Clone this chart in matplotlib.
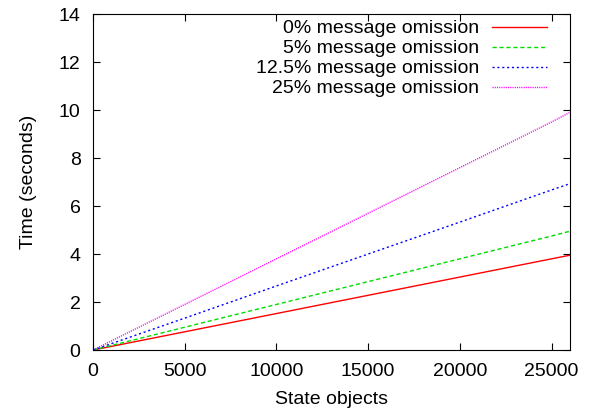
import matplotlib
matplotlib.use('Agg')
import matplotlib.pyplot as plt

objects = [0, 5000, 10000, 15000, 20000, 25000, 26000]
t_0 = [0, 0.76, 1.52, 2.28, 3.04, 3.80, 3.95]
t_5 = [0, 0.95, 1.90, 2.85, 3.80, 4.75, 4.95]
t_125 = [0, 1.33, 2.67, 4.00, 5.33, 6.67, 6.93]
t_25 = [0, 1.90, 3.80, 5.70, 7.60, 9.50, 9.90]

plt.rcParams['font.family'] = ['Liberation Sans', 'DejaVu Sans']
plt.rcParams['font.size'] = 14

fig = plt.figure(figsize=(5.93, 4.13), dpi=100)
ax = fig.add_axes([0.157, 0.1525, 0.804, 0.8135])

ax.plot(objects, t_0, color='#ff0000', lw=1, label='0% message omission')
ax.plot(objects, t_5, color='#00dd00', lw=1, dashes=(3, 2), label='5% message omission')
ax.plot(objects, t_125, color='#0000ff', lw=1, dashes=(1.5, 2), label='12.5% message omission')
ax.plot(objects, t_25, color='#ff00ff', lw=1, dashes=(0.8, 0.8), label='25% message omission')

ax.set_xlim(0, 26000)
ax.set_ylim(0, 14)
ax.set_xticks(range(0, 26000, 5000))
ax.set_yticks(range(0, 15, 2))
ax.tick_params(direction='in', top=True, right=True, length=5, pad=9)
ax.set_xlabel('State objects', labelpad=8)
ax.set_ylabel('Time (seconds)', labelpad=16)
ax.legend(loc='upper right', bbox_to_anchor=(0.964, 1.0), frameon=False, markerfirst=False,
          handlelength=2.8, labelspacing=0.12, borderaxespad=0, borderpad=0.3, handletextpad=0.7)

plt.savefig('out.png')
